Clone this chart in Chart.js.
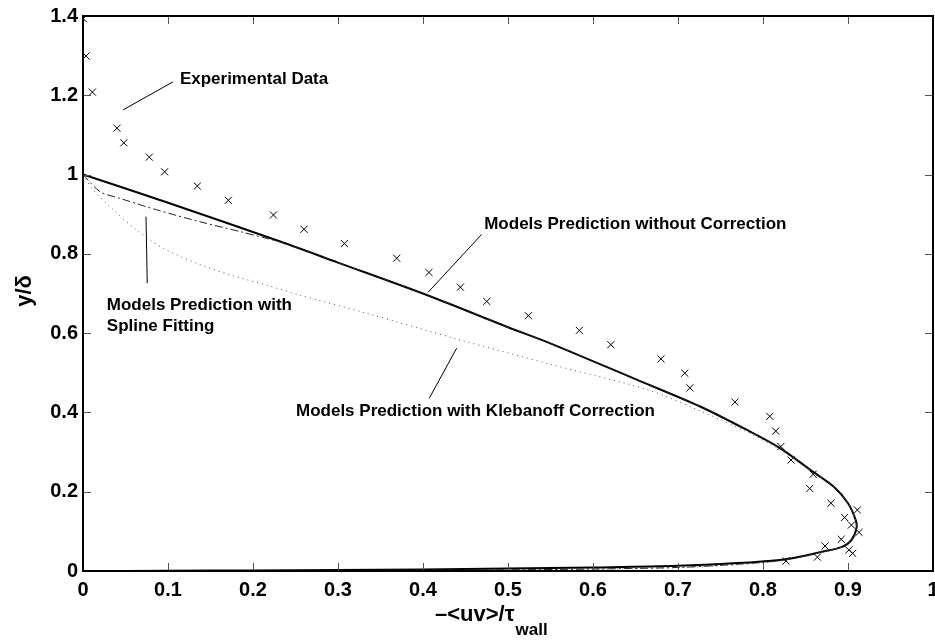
<!DOCTYPE html>
<html lang="en">
  <head>
    <meta charset="UTF-8" />
    <title>Shear stress profile</title>
    <script src="https://cdn.jsdelivr.net/npm/chart.js"></script>
    <style>
      body { margin: 0; background: #fff; }
      .chart-box { width: 935px; height: 640px; }
    </style>
  </head>
  <body>
    <div class="chart-box">
      <canvas id="uvChart"></canvas>
    </div>

<script>
  // Measured points (x marks)
  var expX = [0.0004, 0.0035, 0.011, 0.040, 0.048, 0.078, 0.096, 0.1345, 0.171, 0.224,
    0.260, 0.3075, 0.369, 0.407, 0.444, 0.475, 0.524, 0.584, 0.621, 0.680,
    0.708, 0.714, 0.767, 0.808, 0.815, 0.821, 0.833, 0.859, 0.855, 0.880,
    0.911, 0.896, 0.904, 0.913, 0.892, 0.873, 0.901, 0.9055, 0.864, 0.827];
  var expY = [1.393, 1.299, 1.208, 1.117, 1.080, 1.044, 1.007, 0.971, 0.935, 0.898,
    0.862, 0.826, 0.789, 0.753, 0.716, 0.680, 0.644, 0.607, 0.571, 0.535,
    0.499, 0.462, 0.426, 0.390, 0.353, 0.314, 0.280, 0.244, 0.208, 0.171,
    0.154, 0.135, 0.116, 0.0975, 0.080, 0.063, 0.053, 0.0446, 0.035, 0.025];

  // Model without correction (solid)
  var plainX = [0, 0.1, 0.232, 0.3, 0.406, 0.5, 0.549, 0.65, 0.726, 0.78, 0.82, 0.859, 0.883,
    0.900, 0.909, 0.910, 0.904, 0.893, 0.871, 0.843, 0.82, 0.77, 0.7, 0.6, 0.5, 0.4,
    0.3, 0.2, 0.1, 0];
  var plainY = [1.0, 0.929, 0.831, 0.778, 0.695, 0.615, 0.575, 0.484, 0.415, 0.357, 0.31, 0.25, 0.213,
    0.171, 0.129, 0.108, 0.078, 0.061, 0.049, 0.036, 0.028, 0.02, 0.013, 0.009, 0.006, 0.004,
    0.0025, 0.0015, 0.0006, 0];

  // Model with spline fitting (dash-dot)
  var splineX = [0, 0.02, 0.0435, 0.0867, 0.1376, 0.185, 0.216, 0.24, 0.3, 0.406, 0.5, 0.549, 0.65,
    0.726, 0.78, 0.82, 0.859, 0.883, 0.900, 0.909, 0.910, 0.904, 0.893, 0.871, 0.843, 0.82,
    0.77, 0.7, 0.6, 0.5, 0.4, 0.3, 0.2, 0.1, 0];
  var splineY = [1.0, 0.957, 0.940, 0.911, 0.881, 0.856, 0.839, 0.825, 0.778, 0.695, 0.615, 0.575, 0.484,
    0.415, 0.357, 0.31, 0.25, 0.213, 0.171, 0.129, 0.108, 0.078, 0.061, 0.049, 0.035, 0.026,
    0.017, 0.009, 0.005, 0.003, 0.002, 0.001, 0.0005, 0.0002, 0];

  // Model with Klebanoff correction (dotted)
  var klebX = [0, 0.012, 0.0357, 0.063, 0.0945, 0.134, 0.173, 0.216, 0.255, 0.334, 0.44, 0.549,
    0.663, 0.726, 0.78, 0.82, 0.859, 0.883, 0.900, 0.909, 0.910, 0.904, 0.893, 0.871, 0.843,
    0.82, 0.77, 0.7, 0.6, 0.5, 0.4, 0.3, 0.2, 0.1, 0];
  var klebY = [1.0, 0.961, 0.911, 0.860, 0.814, 0.776, 0.747, 0.721, 0.696, 0.650, 0.585, 0.522,
    0.458, 0.404, 0.352, 0.306, 0.248, 0.212, 0.171, 0.129, 0.108, 0.078, 0.061, 0.048, 0.034,
    0.025, 0.016, 0.008, 0.004, 0.002, 0.0015, 0.001, 0.0005, 0.0002, 0];

  // Labels with leader lines, in data units
  var notes = [
    { text: ["Experimental Data"], x: 0.114, y: 1.241, from: [0.106, 1.234], to: [0.047, 1.163] },
    { text: ["Models Prediction without Correction"], x: 0.472, y: 0.875, from: [0.469, 0.849], to: [0.406, 0.703] },
    { text: ["Models Prediction with", "Spline Fitting"], x: 0.028, y: 0.671, from: [0.0741, 0.894], to: [0.0756, 0.726] },
    { text: ["Models Prediction with Klebanoff Correction"], x: 0.2506, y: 0.404, from: [0.4396, 0.562], to: [0.4074, 0.436] }
  ];

  var xTickStep = 0.1;
  var yTickStep = 0.2;

  function toPoints(xs, ys) {
    return xs.map(function (x, i) { return { x: x, y: ys[i] }; });
  }

  // "1" instead of "1.0", "0.2" etc.
  function tickText(v) {
    return String(Math.round(v * 10) / 10);
  }

  var FONT = '"Liberation Sans", Arial, sans-serif';

  // box, inward ticks, axis titles and notes
  var decorPlugin = {
    id: "decor",
    afterDraw: function (chart) {
      var ctx = chart.ctx;
      var a = chart.chartArea;
      var xs = chart.scales.x;
      var ys = chart.scales.y;
      ctx.save();

      // inward tick marks on all four sides
      ctx.strokeStyle = "#555";
      ctx.lineWidth = 1;
      ctx.beginPath();
      xs.ticks.forEach(function (t) {
        var px = Math.round(xs.getPixelForValue(t.value)) + 0.5;
        ctx.moveTo(px, a.bottom); ctx.lineTo(px, a.bottom - 8);
        ctx.moveTo(px, a.top); ctx.lineTo(px, a.top + 8);
      });
      ys.ticks.forEach(function (t) {
        var py = Math.round(ys.getPixelForValue(t.value)) + 0.5;
        ctx.moveTo(a.left, py); ctx.lineTo(a.left + 8, py);
        ctx.moveTo(a.right, py); ctx.lineTo(a.right - 8, py);
      });
      ctx.stroke();

      // frame
      ctx.strokeStyle = "#000";
      ctx.lineWidth = 2;
      ctx.strokeRect(a.left, a.top, a.right - a.left, a.bottom - a.top);

      // notes
      ctx.lineWidth = 1;
      ctx.fillStyle = "#000";
      ctx.font = "bold 17px " + FONT;
      ctx.textAlign = "left";
      ctx.textBaseline = "middle";
      notes.forEach(function (n) {
        ctx.beginPath();
        ctx.moveTo(xs.getPixelForValue(n.from[0]), ys.getPixelForValue(n.from[1]));
        ctx.lineTo(xs.getPixelForValue(n.to[0]), ys.getPixelForValue(n.to[1]));
        ctx.stroke();
        var tx = xs.getPixelForValue(n.x);
        var ty = ys.getPixelForValue(n.y);
        n.text.forEach(function (line, i) {
          ctx.fillText(line, tx, ty + i * 21);
        });
      });

      // y title
      ctx.font = "bold 22px " + FONT;
      ctx.textAlign = "center";
      ctx.save();
      ctx.translate(25, 291);
      ctx.rotate(-Math.PI / 2);
      ctx.fillText("y/\u03b4", 0, 0);
      ctx.restore();

      // x title with subscript
      ctx.textAlign = "left";
      ctx.textBaseline = "alphabetic";
      var main = "\u2013<uv>/\u03c4";
      ctx.font = "bold 22px " + FONT;
      var w = ctx.measureText(main).width;
      ctx.fillText(main, 435, 621);
      ctx.font = "bold 17px " + FONT;
      ctx.fillText("wall", 435 + w + 1, 635);

      ctx.restore();
    }
  };

  var uvCtx = document.getElementById("uvChart").getContext("2d");
  let uvChart = new Chart(uvCtx, {
    type: "scatter",
    data: {
      datasets: [
        {
          label: "Models Prediction with Klebanoff Correction",
          data: toPoints(klebX, klebY),
          showLine: true,
          borderColor: "#555",
          borderWidth: 1,
          borderDash: [1, 4],
          pointRadius: 0,
          tension: 0.3,
        },
        {
          label: "Models Prediction with Spline Fitting",
          data: toPoints(splineX, splineY),
          showLine: true,
          borderColor: "#222",
          borderWidth: 1,
          borderDash: [8, 3, 2, 3],
          pointRadius: 0,
          tension: 0.3,
        },
        {
          label: "Models Prediction without Correction",
          data: toPoints(plainX, plainY),
          showLine: true,
          borderColor: "#000",
          borderWidth: 2,
          pointRadius: 0,
          tension: 0.3,
        },
        {
          label: "Experimental Data",
          data: toPoints(expX, expY),
          showLine: false,
          pointStyle: "crossRot",
          pointRadius: 5,
          pointBorderWidth: 1,
          borderColor: "#000",
          backgroundColor: "#000",
        },
      ],
    },
    options: {
      responsive: true,
      maintainAspectRatio: false,
      animation: false,
      layout: { autoPadding: false, padding: { top: 16, right: 2, left: 0, bottom: 0 } },
      plugins: {
        legend: { display: false },
        tooltip: { enabled: false },
      },
      scales: {
        x: {
          type: "linear",
          min: 0,
          max: 1,
          grid: { display: false, drawTicks: false },
          border: { display: false },
          ticks: {
            stepSize: xTickStep,
            padding: 7,
            color: "#000",
            maxRotation: 0,
            callback: tickText,
            font: { family: FONT, size: 20, weight: "bold" },
          },
          afterFit: function (s) {
            s.height = 69;
            s.paddingLeft = 0;
            s.paddingRight = 0;
          },
        },
        y: {
          type: "linear",
          min: 0,
          max: 1.4,
          grid: { display: false, drawTicks: false },
          border: { display: false },
          ticks: {
            stepSize: yTickStep,
            padding: 5,
            color: "#000",
            callback: tickText,
            font: { family: FONT, size: 20, weight: "bold" },
          },
          afterFit: function (s) {
            s.width = 83;
            s.paddingTop = 0;
            s.paddingBottom = 0;
          },
        },
      },
    },
    plugins: [decorPlugin],
  });
</script>
  </body>
</html>
